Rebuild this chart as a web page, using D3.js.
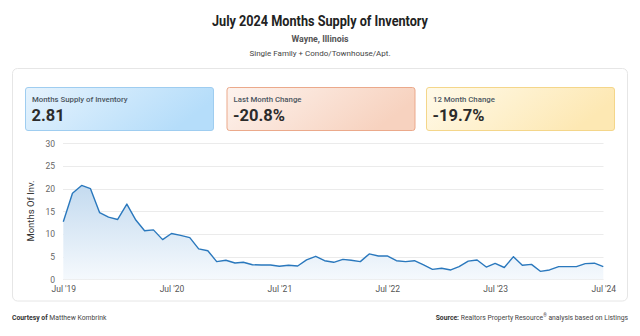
<!DOCTYPE html>
<html><head><meta charset="utf-8">
<script src="https://cdn.jsdelivr.net/npm/d3@7/dist/d3.min.js"></script>
<style>
body{margin:0;background:#fff;font-family:Roboto,"Open Sans",sans-serif;}
svg text{font-family:Roboto,"Open Sans",sans-serif;}
</style></head>
<body><svg id="c" width="640" height="336"></svg>
<script>
const title = "July 2024 Months Supply of Inventory";
const subtitle = "Wayne, Illinois";
const subtitle2 = "Single Family + Condo/Townhouse/Apt.";
const yAxisTitle = "Months Of Inv.";
const kpiLabels = ["Months Supply of Inventory","Last Month Change","12 Month Change"];
const kpiValues = ["2.81","-20.8%","-19.7%"];
const startMonth = "2019-07";
const values = [12.7,19.0,20.7,20.0,14.7,13.7,13.2,16.6,13.2,10.7,10.9,8.75,10.1,9.7,9.2,6.7,6.3,3.9,4.2,3.6,3.75,3.2,3.16,3.16,2.87,3.1,2.94,4.3,5.07,
  4.1,3.75,4.4,4.2,3.9,5.6,5.15,5.15,4.1,3.9,4.1,3.16,2.2,2.43,2.06,2.8,4.0,4.26,2.7,3.5,2.6,5.0,3.1,3.3,1.76,2.06,2.8,2.8,2.8,3.45,3.55,2.81];
const yTicks = [0,5,10,15,20,25,30];
const xTickLabels = ["Jul '19","Jul '20","Jul '21","Jul '22","Jul '23","Jul '24"];

const svg = d3.select("#c");
const defs = svg.append("defs");

// header
svg.append("text").attr("x",320).attr("y",26).attr("text-anchor","middle")
  .attr("font-size",15).attr("font-weight",700).attr("fill","#222")
  .attr("textLength",216).attr("lengthAdjust","spacingAndGlyphs").text(title);
svg.append("text").attr("x",320).attr("y",41.5).attr("text-anchor","middle")
  .attr("font-size",9.5).attr("font-weight",700).attr("fill","#555")
  .attr("textLength",57).attr("lengthAdjust","spacingAndGlyphs").text(subtitle);
svg.append("text").attr("x",320).attr("y",55.5).attr("text-anchor","middle")
  .attr("font-size",8).attr("fill","#444").text(subtitle2);

// outer card
svg.append("rect").attr("x",12.5).attr("y",68.5).attr("width",615).attr("height",232.5)
  .attr("rx",5).attr("fill","#fff").attr("stroke","#e6e6e6");

// KPI cards
const cardStyles = [
  {c0:"#e6f3fd",c1:"#b5ddfa",stroke:"#9fcdf0"},
  {c0:"#fdf3ee",c1:"#f7d2bf",stroke:"#eba98b"},
  {c0:"#fffaea",c1:"#fde8b3",stroke:"#f4d68a"}
];
const cardX = [25.5,227,426.5], cardW = 188;
cardStyles.forEach((s,i)=>{
  const g = defs.append("linearGradient").attr("id","kg"+i).attr("x1","0").attr("x2","1").attr("y1","0").attr("y2","0.3");
  g.append("stop").attr("offset","0").attr("stop-color",s.c0);
  g.append("stop").attr("offset","1").attr("stop-color",s.c1);
  svg.append("rect").attr("x",cardX[i]).attr("y",87.5).attr("width",cardW).attr("height",43)
    .attr("rx",2.5).attr("fill",`url(#kg${i})`).attr("stroke",s.stroke);
  svg.append("text").attr("x",cardX[i]+6.5).attr("y",101.5).attr("font-size",7.8)
    .attr("font-weight",500).attr("fill","#4a5560").text(kpiLabels[i]);
  svg.append("text").attr("x",cardX[i]+6).attr("y",120.5).attr("font-size",16.5)
    .attr("font-weight",700).attr("fill","#2b2b2b").text(kpiValues[i]);
});

// chart
const parse = d3.timeParse("%Y-%m");
const t0 = parse(startMonth);
const data = values.map((v,i)=>({d:d3.timeMonth.offset(t0,i),v}));
const x = d3.scaleTime().domain([t0,data[data.length-1].d]).range([63.3,603.3]);
const y = d3.scaleLinear().domain([0,30]).range([279.3,143.3]);

// grid
svg.append("g").selectAll("line").data(yTicks).join("line")
  .attr("x1",63).attr("x2",603.5).attr("y1",d=>Math.round(y(d))+0.5).attr("y2",d=>Math.round(y(d))+0.5)
  .attr("stroke","#ebebeb");

// y axis labels
const yAxis = d3.axisLeft(y).tickValues(yTicks).tickSize(0).tickPadding(0);
const ya = svg.append("g").attr("transform","translate(55,0)").call(yAxis);
ya.select(".domain").remove();
ya.selectAll("text").attr("font-size",8.5).attr("fill","#666").attr("text-anchor","end")
  .style("font-family","Roboto,sans-serif");

// x axis labels
const xTickDates = xTickLabels.map((l,i)=>d3.timeMonth.offset(t0,12*i));
const xAxis = d3.axisBottom(x).tickValues(xTickDates).tickSize(0).tickPadding(0)
  .tickFormat((d,i)=>xTickLabels[i]);
const xa = svg.append("g").attr("transform","translate(0,286)").call(xAxis);
xa.select(".domain").remove();
xa.selectAll("text").attr("font-size",8.5).attr("fill","#555").style("font-family","Roboto,sans-serif");

// y axis title
svg.append("text").attr("transform","translate(34,211) rotate(-90)").attr("text-anchor","middle")
  .attr("font-size",9.5).attr("fill","#333").text(yAxisTitle);

// area
const ag = defs.append("linearGradient").attr("id","ag")
  .attr("gradientUnits","userSpaceOnUse").attr("x1",0).attr("x2",0).attr("y1",y(21)).attr("y2",y(0));
ag.append("stop").attr("offset","0").attr("stop-color","#c3daef");
ag.append("stop").attr("offset","1").attr("stop-color","#f5f9fd");
svg.append("path").datum(data)
  .attr("d",d3.area().x(d=>x(d.d)).y0(y(0)).y1(d=>y(d.v)))
  .attr("fill","url(#ag)");
svg.append("path").datum(data)
  .attr("d",d3.line().x(d=>x(d.d)).y(d=>y(d.v)))
  .attr("fill","none").attr("stroke","#2a78bd").attr("stroke-width",1.4).attr("stroke-linejoin","round");

// footer
const f1 = svg.append("text").attr("x",12).attr("y",320).attr("font-size",6.8).attr("fill","#444");
f1.append("tspan").attr("font-weight",700).attr("fill","#333").text("Courtesy of ");
f1.append("tspan").text("Matthew Kombrink");
const f2 = svg.append("text").attr("x",628).attr("y",320).attr("font-size",6.8).attr("fill","#444").attr("text-anchor","end");
f2.append("tspan").attr("font-weight",700).attr("fill","#333").text("Source: ");
f2.append("tspan").text("Realtors Property Resource");
f2.append("tspan").attr("font-size",4.5).attr("dy",-3).text("®");
f2.append("tspan").attr("dy",3).text(" analysis based on Listings");
</script></body></html>
